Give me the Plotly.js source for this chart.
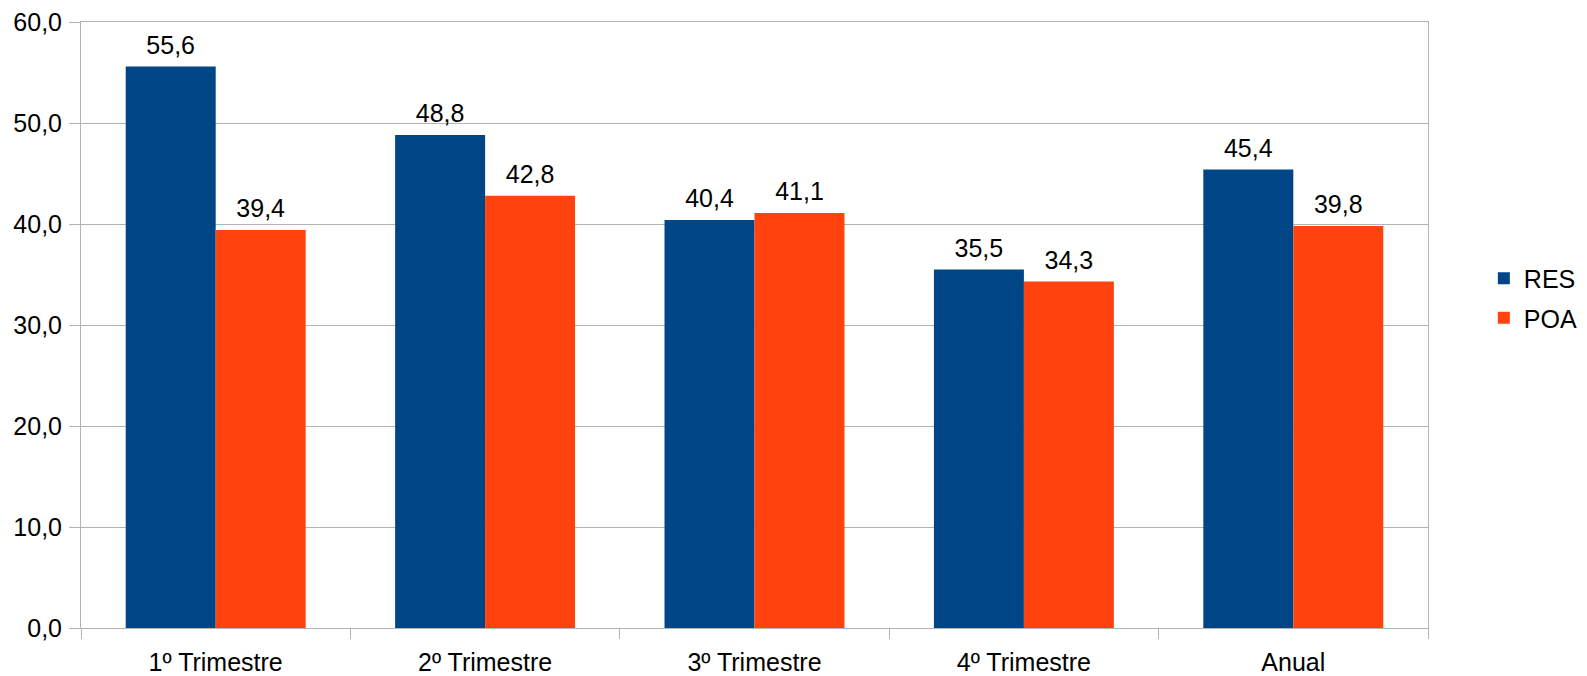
<!DOCTYPE html>
<html><head><meta charset="utf-8">
<script src="https://cdn.plot.ly/plotly-3.0.1.min.js"></script>
<style>body{margin:0;background:#fff}#chart{width:1587px;height:676px}</style>
</head><body><div id="chart"></div>
<script>
const categories = ["1º Trimestre", "2º Trimestre", "3º Trimestre", "4º Trimestre", "Anual"];
const resValues = [55.6, 48.8, 40.4, 35.5, 45.4];
const poaValues = [39.4, 42.8, 41.1, 34.3, 39.8];
const yTicks = [0, 10, 20, 30, 40, 50, 60];
const seriesNames = ["RES", "POA"];
const seriesColors = ["#004586", "#ff420e"];

const font = {family: "Liberation Sans, Arial, sans-serif", size: 25, color: "#000"};
const series = [resValues, poaValues];
const traces = [];
series.forEach((vals, i) => {
  traces.push({type: "bar", name: seriesNames[i], x: categories, y: vals,
    marker: {color: seriesColors[i]}, offsetgroup: String(i), legendgroup: String(i),
    hoverinfo: "skip"});
});
series.forEach((vals, i) => {
  traces.push({type: "scatter", mode: "markers+text", x: categories, y: vals,
    offsetgroup: String(i), showlegend: false, hoverinfo: "skip",
    marker: {size: 9, color: "rgba(0,0,0,0)"},
    texttemplate: "%{y:.1f}", textposition: "top center", cliponaxis: false, textfont: font});
});
const layout = {
  width: 1587, height: 676,
  margin: {l: 81, r: 159, t: 22, b: 48},
  separators: ",.",
  font: font,
  paper_bgcolor: "#fff", plot_bgcolor: "#fff",
  barmode: "group", bargap: 0.332, bargroupgap: 0,
  scattermode: "group", scattergap: 0.332,
  showlegend: true,
  legend: {xref: "container", yref: "container", x: 0.935, xanchor: "left", y: 0.559, yanchor: "middle",
           font: font, tracegroupgap: 4, traceorder: "grouped"},
  xaxis: {showline: true, linecolor: "#b3b3b3", linewidth: 1, mirror: true,
          ticks: "outside", tickson: "boundaries", ticklen: 10, tickcolor: "#b3b3b3",
          showgrid: false, tickfont: font, ticklabelstandoff: 12},
  yaxis: {range: [0, 60], tickvals: yTicks, tickformat: ".1f", showline: true, linecolor: "#b3b3b3",
          mirror: true, ticks: "outside", ticklen: 11, tickcolor: "#b3b3b3", gridcolor: "#b3b3b3",
          zeroline: false, tickfont: font, ticklabelstandoff: 2}
};
Plotly.newPlot("chart", traces, layout, {displayModeBar: false, staticPlot: true});
</script></body></html>
